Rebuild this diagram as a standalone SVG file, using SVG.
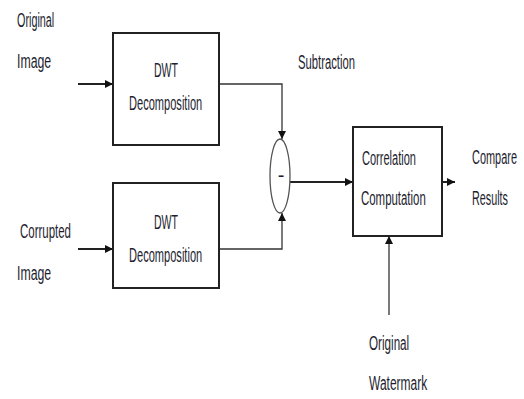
<svg xmlns="http://www.w3.org/2000/svg" width="524" height="399" viewBox="0 0 524 399">
<style>
text{font-family:"Liberation Sans",Arial,sans-serif;font-size:20px;fill:#1e1e30;}
.box{fill:#fff;stroke:#222;stroke-width:2;}
.ln{fill:none;stroke:#222;stroke-width:2;}
.thin{fill:none;stroke:#333;stroke-width:1.3;}
</style>
<defs>
<marker id="ah" viewBox="0 0 10 10" refX="10" refY="5" markerWidth="8" markerHeight="8" markerUnits="userSpaceOnUse" orient="auto">
<path d="M0,0 L10,5 L0,10 z" fill="#111"/>
</marker>
</defs>
<rect width="524" height="399" fill="#fff"/>
<g id="connectors">
<line class="ln" x1="78" y1="84" x2="113" y2="84" marker-end="url(#ah)" stroke="#777"/>
<line class="ln" x1="78" y1="249" x2="113" y2="249" marker-end="url(#ah)"/>
<polyline class="thin" points="219,84 282,84 282,139" marker-end="url(#ah)"/>
<polyline class="thin" points="219,249 282,249 282,213" marker-end="url(#ah)"/>
<line class="ln" x1="290" y1="182" x2="353" y2="182" marker-end="url(#ah)"/>
<line class="ln" x1="442" y1="182" x2="455" y2="182" marker-end="url(#ah)"/>
<line class="thin" x1="389" y1="315" x2="389" y2="236" marker-end="url(#ah)"/>
</g>
<g id="label-original-image">
<text transform="translate(17,27) scale(0.6,1)" textLength="62" lengthAdjust="spacingAndGlyphs">Original</text>
<text transform="translate(17,68) scale(0.6,1)" textLength="57" lengthAdjust="spacingAndGlyphs">Image</text>
</g>
<g id="label-corrupted-image">
<text transform="translate(20,238) scale(0.6,1)" textLength="85" lengthAdjust="spacingAndGlyphs">Corrupted</text>
<text transform="translate(17,280) scale(0.6,1)" textLength="57" lengthAdjust="spacingAndGlyphs">Image</text>
</g>
<g id="dwt1">
<rect class="box" x="113" y="33" width="106" height="112"/>
<text transform="translate(154,77) scale(0.6,1)" textLength="40" lengthAdjust="spacingAndGlyphs">DWT</text>
<text transform="translate(129,110) scale(0.6,1)" textLength="122" lengthAdjust="spacingAndGlyphs">Decomposition</text>
</g>
<g id="dwt2">
<rect class="box" x="113" y="183" width="106" height="105"/>
<text transform="translate(154,229) scale(0.6,1)" textLength="40" lengthAdjust="spacingAndGlyphs">DWT</text>
<text transform="translate(129,262) scale(0.6,1)" textLength="122" lengthAdjust="spacingAndGlyphs">Decomposition</text>
</g>
<g id="subtraction">
<ellipse cx="280" cy="176" rx="10" ry="37" fill="#fff" stroke="#555" stroke-width="1.3"/>
<text x="281" y="182" text-anchor="middle" font-size="10">-</text>
<text transform="translate(298,69) scale(0.6,1)" textLength="95" lengthAdjust="spacingAndGlyphs">Subtraction</text>
</g>
<g id="correlation">
<rect class="box" x="353" y="127" width="89" height="109"/>
<text transform="translate(362,165) scale(0.6,1)" textLength="90" lengthAdjust="spacingAndGlyphs">Correlation</text>
<text transform="translate(361,205) scale(0.6,1)" textLength="108" lengthAdjust="spacingAndGlyphs">Computation</text>
</g>
<g id="label-compare">
<text transform="translate(472,164) scale(0.6,1)" textLength="75" lengthAdjust="spacingAndGlyphs">Compare</text>
<text transform="translate(472,205) scale(0.6,1)" textLength="60" lengthAdjust="spacingAndGlyphs">Results</text>
</g>
<g id="label-watermark">
<text transform="translate(369,350) scale(0.6,1)" textLength="67" lengthAdjust="spacingAndGlyphs">Original</text>
<text transform="translate(369,390) scale(0.6,1)" textLength="97" lengthAdjust="spacingAndGlyphs">Watermark</text>
</g>
</svg>
